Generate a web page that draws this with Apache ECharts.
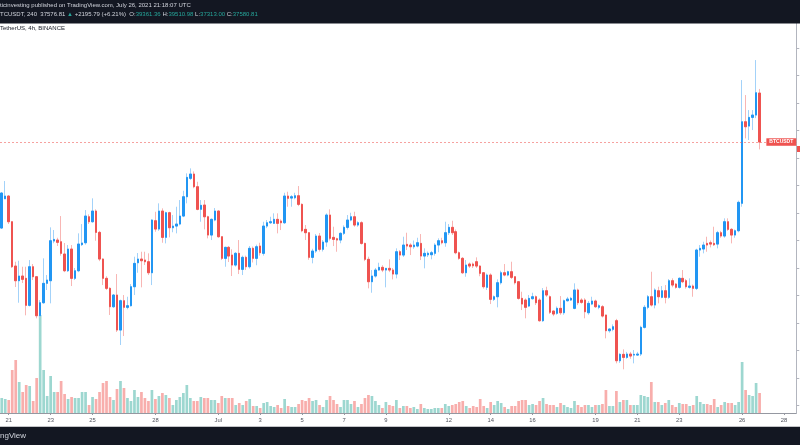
<!DOCTYPE html>
<html><head><meta charset="utf-8">
<script src="https://cdn.jsdelivr.net/npm/echarts/dist/echarts.min.js"></script>
<style>html,body{margin:0;padding:0;background:#fff}#c{width:800px;height:445px}</style>
</head><body><div id="c"></div>
<script>
// 4h candles, BTCUSDT (Binance), 2021-06-20 16:00 UTC .. 2021-07-26 20:00 UTC
const startUTC = Date.UTC(2021, 5, 20, 16, 0);
const slotCount = 228; // axis runs on to Jul 28

const openP = [34453,35518,35616,34682,33071,32537,32708,32624,31642,33046,32682,31264,31737,32442,32537,33980,34017,33955,33508,32900,
33689,32624,32900,33850,33918,34864,34682,35071,34295,33326,32624,32260,31591,32017,30744,31810,31570,31628,32319,33191,
33326,33289,33228,32827,34719,34416,35071,34114,35010,34464,34525,34598,34889,35591,36260,36416,35955,35133,35289,34863,
34198,34744,35071,34137,33351,33751,33471,33107,33533,32951,33387,33046,33715,33351,33798,33533,34525,34646,34625,34769,
34707,34646,35616,35543,35555,35627,35314,34405,34283,33387,33617,34162,33679,33944,34926,34114,34064,34017,34260,34478,
34744,34863,34562,34646,33895,33315,32501,32708,32926,33023,32926,32987,32926,32780,33591,33471,33860,33835,33773,33798,
33895,33435,33480,33483,33533,33835,33992,33918,34283,34478,34319,33555,33351,32827,33144,33144,33228,33071,32827,32297,
32744,31860,31955,32464,32827,32744,32864,32682,32501,31896,31835,31617,31883,31955,31835,31083,32173,31955,31435,31351,
31533,31373,31810,31835,31533,32199,31835,31835,31373,31689,31799,31570,31591,31290,30719,30769,31083,29628,29860,29750,
29871,29834,29834,29871,30842,31570,31955,31653,32173,31933,32173,31933,32537,32417,32297,32624,32537,32297,32344,32260,
33653,33690,33895,33918,33895,33870,34283,34162,34682,34405,34198,34355,35351,38318,38161,38477,38561,39361.36];
const highP = [35760,36162,35650,34700,33228,33264,33046,33046,33289,33144,32700,31835,33351,32744,34478,34382,34100,34889,33908,33835,
33835,33000,34260,34598,35107,34950,35533,35133,34350,33350,32700,32300,32053,32780,31850,32017,31955,32417,33410,33544,
33591,33591,33533,34769,35046,35351,35169,35046,35046,34926,35228,35471,35809,36441,36623,36512,36136,35471,35471,34900,
34800,35180,35100,34150,33773,33800,33679,33580,34017,33450,33450,33800,33780,33850,33918,34682,34744,34863,34988,34988,
34769,35736,35773,35650,35736,35980,35350,34562,34300,33700,34235,34272,34017,34988,35133,34501,34100,34300,34550,34926,
35010,35046,34700,34700,33920,33411,32926,33000,33191,33100,33000,33315,33000,33715,33650,34137,34283,33900,34000,34100,
34235,33715,33600,33620,33900,34078,34100,34682,34598,34719,34400,33600,33400,33289,33200,33200,33387,33100,32850,32800,
32805,32000,32586,32900,33144,32900,33228,32700,32520,32137,31896,32017,32101,32000,31900,32271,32319,32000,31450,31600,
31980,31850,31950,31950,32442,32250,31900,31900,31800,31955,31850,31680,31650,31300,30800,30950,31150,29900,30041,29950,
29950,30017,29950,30900,31650,32017,32864,32260,32319,32344,32380,32600,32624,32450,32660,32926,32600,32624,32400,33700,
33835,33955,34137,34000,34501,34350,34350,34806,34806,34450,34400,35450,39834,39289,38743,38743,40561,39510.98];
const lowP = [34420,35507,34600,33000,32308,31737,32453,31279,31600,32562,31170,31200,31700,32199,31715,33900,33800,33450,32850,32853,
32344,32562,32850,33800,33850,34600,34650,33992,33250,32380,32199,31290,31550,30672,30199,30526,31500,31600,32017,32827,
32297,33108,32744,32380,34318,34350,33918,33895,34114,34300,34260,34550,34850,35351,36200,35900,35100,34682,34405,34078,
34017,34700,34100,33289,33046,33217,32708,33050,32780,32744,32926,32980,33200,33100,33450,33450,34450,34600,34600,34260,
34380,34600,35228,35228,35500,35250,34300,34017,33300,33169,33550,33600,33600,33773,34000,33798,33591,33900,34200,34400,
34700,34500,34500,33850,33250,32260,32101,32650,32900,32850,32297,32850,32586,32624,33289,33400,33653,33471,33700,33750,
33289,32987,33400,33315,33450,33573,33860,33773,34200,34200,33500,33300,32780,32682,33000,33000,33000,32700,32250,32200,
31689,31800,31569,32400,32700,32700,32600,32400,31850,31471,31170,31580,31850,31653,31046,31040,31950,31326,31250,31300,
31300,31300,31780,31800,31500,31650,31700,31170,31300,31650,31550,31500,31200,30442,30650,30700,29534,29550,29315,29700,
29700,29533,29800,29800,30800,31500,31600,31533,31714,31900,31714,31880,32300,32250,32250,32450,32250,32250,31955,32200,
33410,33533,33591,33750,33800,33715,34100,34100,34350,33895,34100,34300,35228,37714,37653,38016,38450,37313.00];
const closeP = [35726,35616,34682,33046,32537,32708,32588,31642,33046,32682,31264,31737,32442,32562,33992,34040,33933,33532,32900,33689,
32624,32900,33871,33908,34889,34682,35071,34295,33326,32624,32260,31591,32017,30744,31810,31570,31628,32319,33168,33326,
33264,33228,32827,34744,34416,35071,34114,35010,34464,34525,34598,34889,35591,36296,36416,35955,35133,35278,34863,34198,
34769,35071,34137,33351,33751,33435,33107,33533,32951,33387,33046,33715,33351,33773,33555,34525,34646,34682,34769,34625,
34646,35616,35533,35591,35627,35314,34355,34283,33387,33617,34162,33679,33944,34926,34078,34041,34017,34260,34478,34744,
34863,34562,34646,33895,33315,32501,32708,32926,33023,32926,32987,32926,32780,33591,33471,33835,33798,33773,33835,33918,
33435,33533,33533,33555,33835,33992,33918,34283,34478,34283,33555,33351,32827,33107,33071,33080,33071,32805,32319,32744,
31860,31955,32464,32827,32744,32864,32660,32464,31896,31689,31570,31896,31955,31737,31083,32173,32017,31388,31326,31533,
31373,31810,31871,31896,32199,31737,31751,31410,31714,31799,31591,31628,31253,30719,30781,30865,29628,29860,29750,29871,
29798,29860,29871,30842,31570,31955,31653,32199,31955,32173,31933,32537,32380,32297,32624,32501,32319,32344,32260,33653,
33715,33835,33835,33870,33846,34283,34162,34682,34405,34198,34355,35387,38318,38136,38477,38561,39373,37580.81];
const volume = [15,14,13,43,53,31,21,28,27,12,35,98,43,17,37,21,21,32,19,14,
16,15,15,21,21,8,16,14,21,30,32,16,13,24,32,25,15,12,23,16,
21,15,12,23,14,17,20,18,15,8,13,16,20,28,15,12,12,16,15,15,
13,13,10,17,15,15,15,8,10,8,12,14,7,7,5,10,11,7,6,8,
5,14,7,6,6,9,13,12,15,12,13,8,6,13,17,13,9,6,13,13,
9,12,6,9,15,18,17,12,8,5,11,8,7,13,5,7,7,5,6,4,
9,5,4,4,5,5,5,9,7,8,9,11,12,7,5,7,6,14,7,5,
11,8,12,10,6,4,7,7,12,13,13,8,9,8,12,15,9,8,8,6,
10,8,6,5,12,8,6,8,8,6,8,8,9,23,7,7,22,11,13,13,
8,8,8,18,17,16,31,11,11,8,10,13,8,6,10,9,9,7,8,17,
11,9,9,8,14,6,8,11,10,10,8,11,51,23,18,17,30,20];
const lastClose = 37580.81;

const tickDates = ['2021-06-21','2021-06-23','2021-06-25','2021-06-28','2021-07-01','2021-07-03','2021-07-05','2021-07-07','2021-07-09',
  '2021-07-12','2021-07-14','2021-07-16','2021-07-19','2021-07-21','2021-07-23','2021-07-26','2021-07-28'];
const tickLabels = ['21','23','25','28','Jul','3','5','7','9','12','14','16','19','21','23','26','28'];

const categories = [];
for (let i = 0; i < slotCount; i++) {
  const d = new Date(startUTC + i * 4 * 3600 * 1000);
  categories.push(d.toISOString().slice(0, 16).replace('T', ' '));
}
const labelMap = new Map();
tickDates.forEach((d, i) => labelMap.set(d + ' 00:00', tickLabels[i]));

const UP = '#2196f3', DOWN = '#ef5350';
const UP_W = '#a3d2f9', DOWN_W = '#f8b6b4';
const VOL_UP = '#9dd7d0', VOL_DOWN = '#f8aeac';

const fullData = openP.map((o, i) => [o, closeP[i], lowP[i], highP[i]]);
const bodyData = openP.map((o, i) => [o, closeP[i], Math.min(o, closeP[i]), Math.max(o, closeP[i])]);
const volData = volume.map((v, i) => ({ value: v, itemStyle: { color: closeP[i] >= openP[i] ? VOL_UP : VOL_DOWN } }));

const FONT = '"Liberation Sans", Arial, sans-serif';
const HF = '6px ' + FONT;
const chart = echarts.init(document.getElementById('c'), null, { renderer: 'canvas' });
chart.setOption({
  animation: false,
  backgroundColor: '#ffffff',
  grid: [
    { left: -1.75, width: 798, top: 20.5, height: 385 },
    { left: -1.75, width: 798, top: 293, height: 120 }
  ],
  xAxis: [
    { type: 'category', gridIndex: 0, data: categories, boundaryGap: true, show: false },
    { type: 'category', gridIndex: 1, data: categories, boundaryGap: true,
      axisLine: { show: true, lineStyle: { color: '#9598a1', width: 1 } },
      axisTick: { show: true, length: 2, alignWithLabel: true, interval: (i, v) => labelMap.has(v), lineStyle: { color: '#9598a1' } },
      axisLabel: { show: true, margin: 4, fontSize: 5.8, fontFamily: FONT, color: '#50535e',
        interval: (i, v) => labelMap.has(v), formatter: v => labelMap.get(v) || '' },
      splitLine: { show: false } }
  ],
  yAxis: [
    { type: 'value', gridIndex: 0, position: 'right', min: 28000, max: 42000, interval: 1000, scale: false,
      axisLine: { show: true, lineStyle: { color: '#b2b5be' } },
      axisTick: { show: true, inside: false, length: 3, lineStyle: { color: '#b2b5be' } },
      axisLabel: { show: false }, splitLine: { show: false } },
    { type: 'value', gridIndex: 1, position: 'right', min: 0, max: 120,
      axisLine: { show: true, lineStyle: { color: '#b2b5be' } },
      axisTick: { show: false }, axisLabel: { show: false }, splitLine: { show: false } }
  ],
  series: [
    { type: 'bar', xAxisIndex: 1, yAxisIndex: 1, data: volData, barWidth: 2.7, z: 1 },
    { type: 'candlestick', xAxisIndex: 0, yAxisIndex: 0, data: fullData, barWidth: 2,
      itemStyle: { color: UP_W, color0: DOWN_W, borderColor: UP_W, borderColor0: DOWN_W, borderWidth: 1 }, z: 3 },
    { type: 'candlestick', xAxisIndex: 0, yAxisIndex: 0, data: bodyData, barWidth: 2,
      itemStyle: { color: UP, color0: DOWN, borderColor: UP, borderColor0: DOWN, borderWidth: 1 }, z: 4,
      markLine: { silent: true, symbol: ['none', 'none'], animation: false,
        lineStyle: { color: 'rgba(239,83,80,0.55)', type: [2, 2], width: 1 },
        label: { show: true, position: 'insideEnd', distance: 0, formatter: 'BTCUSDT', color: '#ffffff',
          backgroundColor: '#ef5350', fontSize: 5, fontWeight: 'bold', fontFamily: FONT, padding: [1.5, 3, 1, 3] },
        data: [{ yAxis: lastClose }] } }
  ],
  graphic: [
    { type: 'rect', z: 100, shape: { x: 0, y: 0, width: 800, height: 23.5 }, style: { fill: '#131722' } },
    { type: 'text', z: 101, x: 0, y: 5.8, style: { text: 'ticinvesting published on TradingView.com, July 26, 2021 21:18:07 UTC',
        fill: '#d1d4dc', font: HF, verticalAlign: 'middle' } },
    { type: 'text', z: 101, x: 0, y: 14.3, style: {
        text: '{w|TCUSDT, 240  37576.81 }{g|▲}{w| +2195.79 (+6.21%)  O:}{g|39361.36}{w| H:}{g|39510.98}{w| L:}{g|37313.00}{w| C:}{g|37580.81}',
        font: HF, verticalAlign: 'middle', fill: '#d1d4dc',
        rich: { w: { fill: '#d1d4dc', font: HF }, g: { fill: '#26a69a', font: HF } } } },
    { type: 'text', z: 101, x: 0, y: 28.7, style: { text: 'TetherUS, 4h, BINANCE', fill: '#131722', font: HF, verticalAlign: 'middle' } },
    { type: 'rect', z: 100, shape: { x: 0, y: 426.7, width: 800, height: 19 }, style: { fill: '#131722' } },
    { type: 'text', z: 101, x: 0, y: 436, style: { text: 'ngView', fill: '#d1d4dc', font: '8px ' + FONT, verticalAlign: 'middle' } },
    { type: 'rect', z: 101, shape: { x: 797, y: 146, width: 3, height: 6 }, style: { fill: '#ef5350' } }
  ]
});
</script></body></html>
